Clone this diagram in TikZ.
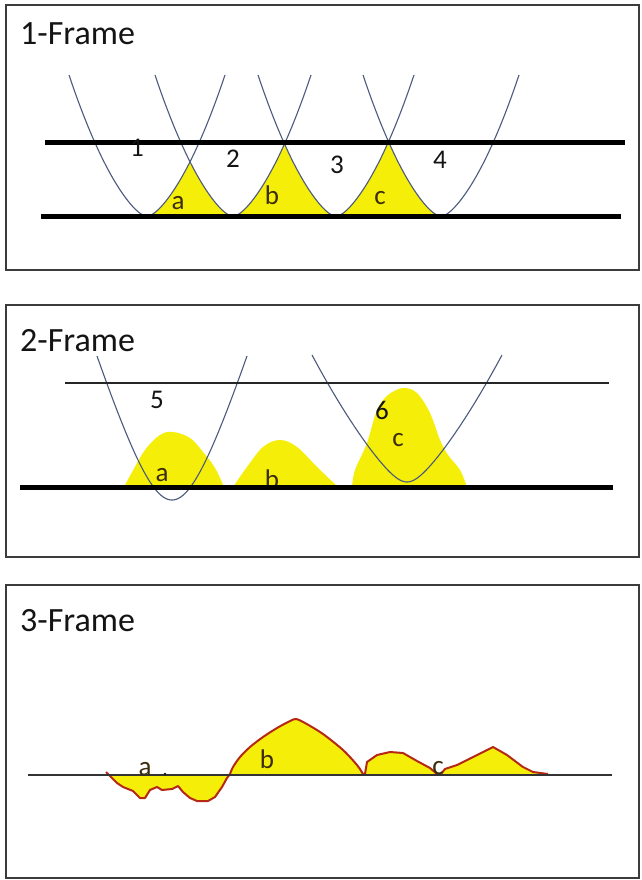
\documentclass[tikz,border=0pt]{standalone}
\usepackage{fontspec}
\setmainfont{Carlito}
\definecolor{framegray}{RGB}{60,60,60}
\definecolor{curvecol}{RGB}{75,90,125}
\definecolor{yel}{RGB}{244,238,8}
\definecolor{redline}{RGB}{180,40,20}
\definecolor{txt}{RGB}{20,20,20}
\definecolor{lbl}{RGB}{60,45,12}
\begin{document}
\begin{tikzpicture}[x=1pt,y=-1pt,
  declare function={
    hA(\x)=0.014*\x*\x+0.792*(sqrt(\x*\x+64)-8);
    hB(\x)=3.2*(sqrt(\x*\x+1600)-40);
    hC(\x)=0.004*\x*\x+1.12*(sqrt(\x*\x+225)-15);
  },
  frame/.style={draw=framegray,line width=1.8pt},
  curve/.style={draw=curvecol,line width=1.1pt},
  thick line/.style={draw=black,line width=5pt},
  thin line/.style={draw=black!85,line width=1.4pt},
  mid line/.style={draw=black!80,line width=2.2pt},
  yfill/.style={fill=yel},
  redcurve/.style={draw=redline,line width=2pt,line join=round},
  title/.style={anchor=base west,inner sep=0pt,text=txt,font=\fontsize{34}{38}\selectfont},
  num/.style={inner sep=0pt,text=txt,font=\fontsize{27}{31}\selectfont},
  let/.style={inner sep=0pt,text=lbl,font=\fontsize{27}{31}\selectfont}
]
\useasboundingbox (0,0) rectangle (641,880);
\fill[white] (0,0) rectangle (641,880);

% ---------------- Frame 1 ----------------
\draw[frame] (6,5) rectangle (639,270);
\node[title] (title1) at (20,45) {1-Frame};
% yellow triangles
\fill[yfill] (147,216) -- plot[domain=0:43,samples=30] ({147+\x},{216-hA(\x)})
   -- plot[domain=-43:0,samples=30] ({233+\x},{216-hA(\x)}) -- cycle;
\fill[yfill] (233,216) -- plot[domain=0:51.5,samples=30] ({233+\x},{216-hA(\x)})
   -- plot[domain=-51.5:0,samples=30] ({336+\x},{216-hA(\x)}) -- cycle;
\fill[yfill] (336,216) -- plot[domain=0:52.5,samples=30] ({336+\x},{216-hA(\x)})
   -- plot[domain=-52.5:0,samples=30] ({441+\x},{216-hA(\x)}) -- cycle;
% parabolas
\foreach \c in {147,233,336,441}
  \draw[curve] plot[domain=-78:78,samples=90] ({\c+\x},{216-hA(\x)});
% lines
\coordinate (u1a) at (45,142); \coordinate (u1b) at (625,142);
\coordinate (l1a) at (41,216); \coordinate (l1b) at (621,216);
\draw[thick line] (u1a) -- (u1b);
\draw[thick line] (l1a) -- (l1b);
% labels
\node[num] (n1) at (137,148) {1};
\node[num] (n2) at (233,159) {2};
\node[num] (n3) at (337,165) {3};
\node[num] (n4) at (440,160) {4};
\node[let] (la1) at (178,203) {a};
\node[let] (lb1) at (272,195) {b};
\node[let] (lc1) at (380,198) {c};

% ---------------- Frame 2 ----------------
\draw[frame] (6,305) rectangle (639,557);
\node[title] (title2) at (20,351) {2-Frame};
% humps
\fill[yfill] plot[smooth,tension=0.6] coordinates {(124,487)(131,474)(145,450)(160,435)(173,432)(190,438)(203,452)(215,468)(224,487)} -- cycle;
\fill[yfill] plot[smooth,tension=0.6] coordinates {(233,487)(247,467)(263,447)(280,440)(297,447)(317,467)(338,487)} -- cycle;
\fill[yfill] plot[smooth,tension=0.55] coordinates {(352,487)(355,470)(367,443)(377,410)(388,395)(403,388)(417,393)(430,413)(440,440)(448,455)(460,470)(467,487)} -- cycle;
% parabolas
\draw[curve] plot[domain=-75:75,samples=90] ({172+\x},{500-hB(\x)});
\draw[curve] plot[domain=-95:95,samples=90] ({407+\x},{482-hC(\x)});
% lines
\coordinate (u2a) at (65,383); \coordinate (u2b) at (609,383);
\coordinate (l2a) at (20,487); \coordinate (l2b) at (613,487);
\draw[thin line] (u2a) -- (u2b);
% labels (b partly hidden under the line)
\node[num] (n5) at (157,400) {5};
\node[num] (n6) at (382,410) {6};
\node[let] (lc2) at (398,440) {c};
\node[let] (la2) at (162,475) {a};
\node[let] (lb2) at (272,479) {b};
\draw[thick line] (l2a) -- (l2b);

% ---------------- Frame 3 ----------------
\draw[frame] (6,585) rectangle (639,878);
\node[title] (title3) at (20,631) {3-Frame};
\fill[yfill] (108,774) -- (117,783) -- (123,787) -- (133,791) -- (140,798) -- (145,798) -- (150,790) -- (157,787) -- (162,790) -- (172,789) -- (178,786) -- (183,792) -- (190,798) -- (197,801) -- (208,801) -- (215,797) -- (222,787) -- (227,778) -- (230,774) -- cycle;
\fill[yfill] plot[smooth,tension=0.5] coordinates {(230,774)(233,767)(240,757)(250,747)(263,737)(277,728)(290,721)(296,719)(305,723)(323,734)(343,750)(357,765)(363,774)} -- cycle;
\fill[yfill] (365,774) -- (367,762) -- (377,755) -- (390,752) -- (403,753) -- (417,761) -- (430,768) -- (437,774) -- cycle;
\fill[yfill] (441,774) -- (445,769) -- (457,765) -- (473,757) -- (493,747) -- (507,755) -- (523,767) -- (533,772) -- (548,774) -- cycle;
\draw[redcurve] (106,772) -- (108,774) -- (117,783) -- (123,787) -- (133,791) -- (140,798) -- (145,798) -- (150,790) -- (157,787) -- (162,790) -- (172,789) -- (178,786) -- (183,792) -- (190,798) -- (197,801) -- (208,801) -- (215,797) -- (222,787) -- (227,778) -- (230,774);
\draw[redcurve] plot[smooth,tension=0.5] coordinates {(230,774)(233,767)(240,757)(250,747)(263,737)(277,728)(290,721)(296,719)(305,723)(323,734)(343,750)(357,765)(363,774)};
\draw[redcurve] (363,774) -- (365,774) -- (367,762) -- (377,755) -- (390,752) -- (403,753) -- (417,761) -- (430,768) -- (437,774) -- (441,774) -- (445,769) -- (457,765) -- (473,757) -- (493,747) -- (507,755) -- (523,767) -- (533,772) -- (548,774);
\coordinate (l3a) at (28,775); \coordinate (l3b) at (612,775);
\draw[mid line] (l3a) -- (l3b);
\node[let] (la3) at (145,769) {a};
\fill[txt] (165,774) circle (1.3);
\node[let] (lb3) at (267,759) {b};
\node[let] (lc3) at (438,768) {c};
\end{tikzpicture}
\end{document}
